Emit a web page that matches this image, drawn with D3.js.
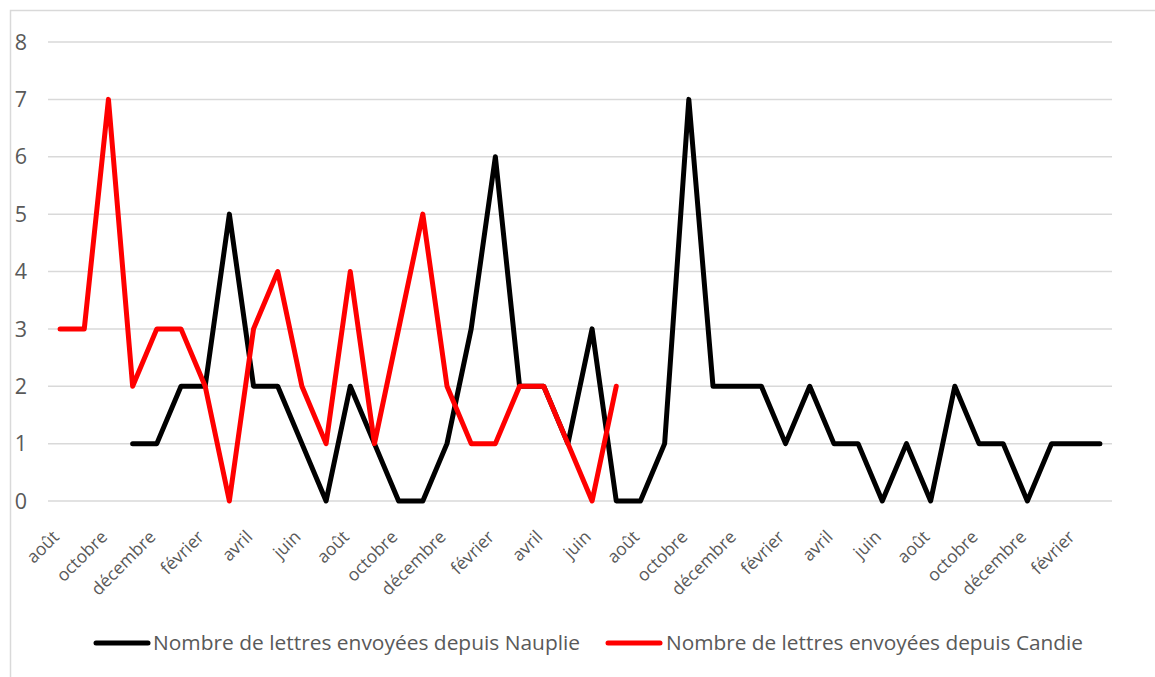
<!DOCTYPE html>
<html><head><meta charset="utf-8">
<script src="https://cdn.jsdelivr.net/npm/d3@7"></script>
<style>body{margin:0;background:#fff}svg{display:block}</style>
</head><body>
<svg id="c" width="1155" height="677"></svg>
<script>
const months = ["août","septembre","octobre","novembre","décembre","janvier","février","mars","avril","mai","juin","juillet",
"août","septembre","octobre","novembre","décembre","janvier","février","mars","avril","mai","juin","juillet",
"août","septembre","octobre","novembre","décembre","janvier","février","mars","avril","mai","juin","juillet",
"août","septembre","octobre","novembre","décembre","janvier","février","mars"];
const nauplie = [null,null,null,1,1,2,2,5,2,2,1,0,2,1,0,0,1,3,6,2,2,1,3,0,0,1,7,2,2,2,1,2,1,1,0,1,0,2,1,1,0,1,1,1];
const candie = [3,3,7,2,3,3,2,0,3,4,2,1,4,1,3,5,2,1,1,2,2,1,0,2];
const yTicks = [0,1,2,3,4,5,6,7,8];
const seriesNames = ["Nombre de lettres envoyées depuis Nauplie","Nombre de lettres envoyées depuis Candie"];
const colors = ["#000000","#ff0000"];

const svg = d3.select("#c");
svg.append("rect").attr("x",10.5).attr("y",10.5).attr("width",1200).attr("height",700)
  .attr("fill","none").attr("stroke","#d9d9d9").attr("stroke-width",1.5);

const idx = d3.range(months.length);
const x = d3.scalePoint().domain(idx).range([48,1112]).padding(0.5);
const y = d3.scaleLinear().domain([0,8]).range([501,42]);

const grid = svg.append("g");
grid.selectAll("line").data(yTicks).join("line")
  .attr("x1",48).attr("x2",1112).attr("y1",d=>y(d)).attr("y2",d=>y(d))
  .attr("stroke","#d9d9d9").attr("stroke-width",1.5);

svg.append("g").selectAll("text").data(yTicks).join("text")
  .attr("x",27).attr("y",d=>y(d)).attr("dy","0.36em").attr("text-anchor","end")
  .attr("font-family","'Open Sans', sans-serif").attr("font-size",21.5).attr("fill","#595959")
  .text(d=>d);

const xl = svg.append("g").selectAll("g").data(idx.filter(i=>i%2===0)).join("g")
  .attr("transform",i=>`translate(${x(i)},538)`);
xl.append("text")
  .attr("text-anchor","end")
  .attr("transform","rotate(-45)")
  .attr("font-family","'Open Sans', sans-serif").attr("font-size",17.5).attr("fill","#595959")
  .text(i=>months[i]);

const line = d3.line().defined(d=>d[1]!=null).x(d=>x(d[0])).y(d=>y(d[1]));
[nauplie,candie].forEach((s,k)=>{
  svg.append("path").datum(s.map((v,i)=>[i,v]))
    .attr("d",line).attr("fill","none").attr("stroke",colors[k]).attr("stroke-width",5)
    .attr("stroke-linejoin","round").attr("stroke-linecap","round");
});

const legend = [{x:96,tx:153,w:427},{x:608,tx:666,w:417}];
legend.forEach((l,k)=>{
  svg.append("line").attr("x1",l.x).attr("x2",l.x+52).attr("y1",643).attr("y2",643)
    .attr("stroke",colors[k]).attr("stroke-width",5).attr("stroke-linecap","round");
  svg.append("text").attr("x",l.tx).attr("y",643).attr("dy","0.35em")
    .attr("font-family","'Liberation Sans Narrow', 'Open Sans', sans-serif").attr("font-size",20)
    .attr("fill","#595959").attr("textLength",l.w).attr("lengthAdjust","spacingAndGlyphs")
    .text(seriesNames[k]);
});
</script>
</body></html>
